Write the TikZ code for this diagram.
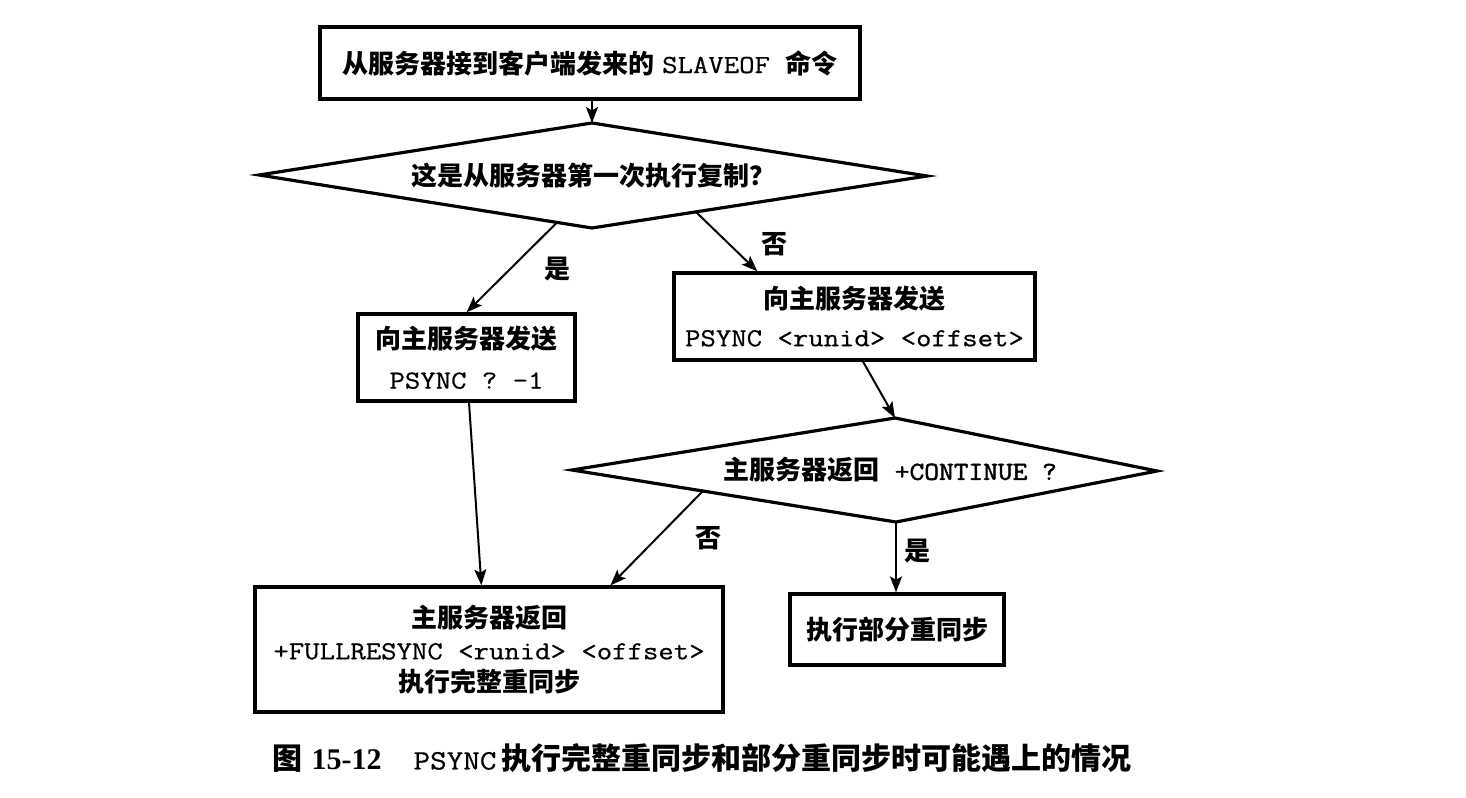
\documentclass[tikz,border=0pt]{standalone}
\usepackage{fontspec}
\usetikzlibrary{arrows.meta,calc}
\newfontfamily\cjk{Noto Sans CJK SC}
\newfontfamily\mn{Latin Modern Mono}[FakeStretch=1.15,FakeBold=0.6]
\newfontfamily\mnb{Latin Modern Mono}[FakeStretch=1.1,FakeBold=1.8]
\newfontfamily\serifb{Liberation Serif}
\newcommand\zh[1]{{\cjk\bfseries #1}}
\newcommand\mt[1]{{\mn #1}}
\newcommand\fs{\fontsize{19.5}{24}\selectfont}
\begin{document}
\begin{tikzpicture}[x=0.75pt,y=-0.75pt,
  box/.style={draw, line width=2.4pt, inner sep=0pt, align=center, font=\fs},
  dia/.style={draw, line width=2.4pt, line join=miter},
  arr/.style={-{Stealth[length=12pt,width=9pt,inset=2.5pt]}, line width=1.5pt},
  lab/.style={inner sep=0pt, font=\fs\cjk\bfseries},
  captext/.style={inner sep=0pt, font=\fontsize{22.5}{26}\selectfont}]
\useasboundingbox (0,0) rectangle (1466,798);

% boxes
\node[box, minimum width=405pt, minimum height=54pt] (box1) at (590,63)
  {\zh{从服务器接到客户端发来的}\ \mt{SLAVEOF}\ \ \zh{命令}};
\node[box, minimum width=162.75pt, minimum height=65.25pt] (boxL) at (466.5,357.5)
  {\zh{向主服务器发送}\\[6pt]\mt{PSYNC ? -1}};
\node[box, minimum width=270.75pt, minimum height=65.25pt] (boxR) at (854.5,316.5)
  {\zh{向主服务器发送}\\[4pt]\mt{PSYNC <runid> <offset>}};
\node[box, minimum width=351pt, minimum height=93.75pt] (boxBig) at (489,649.5)
  {\zh{主服务器返回}\\[0pt]\mt{+FULLRESYNC <runid> <offset>}\\[0pt]\zh{执行完整重同步}};
\node[box, minimum width=160.5pt, minimum height=53.25pt] (boxSmall) at (897,629.5)
  {\zh{执行部分重同步}};

% diamond 1
\coordinate (d1l) at (259,175);
\coordinate (d1t) at (592,123);
\coordinate (d1r) at (927,176);
\coordinate (d1b) at (592,228);
\draw[dia] (d1l) -- (d1t) -- (d1r) -- (d1b) -- cycle;
\node[lab] (d1) at (593,176) {这是从服务器第一次执行复制？};

% diamond 2
\coordinate (d2l) at (572,470);
\coordinate (d2t) at (895,418);
\coordinate (d2r) at (1157,471);
\coordinate (d2b) at (896,522);
\draw[dia] (d2l) -- (d2t) -- (d2r) -- (d2b) -- cycle;
\node[inner sep=0pt, font=\fs] (d2) at (890,470) {\zh{主服务器返回}\ \ {\mnb +CONTINUE ?}};

% connectors
\draw[arr] (box1.south -| d1t) -- (d1t);
\draw[arr] ($(d1b)!0.105!(d1l)$) -- (boxL.north);
\draw[arr] ($(d1b)!0.31!(d1r)$) -- ($(boxR.north west)+(85,0)$);
\draw[arr] ($(boxR.south)+(8.5,0)$) -- (d2t);
\draw[arr] ($(boxL.south)+(2.5,0)$) -- ($(boxBig.north west)+(228,0)$);
\draw[arr] ($(d2b)!0.596!(d2l)$) -- ($(boxBig.north west)+(357,0)$);
\draw[arr] (d2b) -- (boxSmall.north -| d2b);

% labels
\node[lab] (l1) at (557,269) {是};
\node[lab] (l2) at (774,244) {否};
\node[lab] (l3) at (708,538) {否};
\node[lab] (l4) at (917,551) {是};

% caption
\node[captext] (caption) at (702,758)
  {\zh{图}\ {\serifb\bfseries 15-12}\hspace{24pt}{\mn\fontsize{21}{24}\selectfont PSYNC}\,\zh{执行完整重同步和部分重同步时可能遇上的情况}};
\end{tikzpicture}
\end{document}
